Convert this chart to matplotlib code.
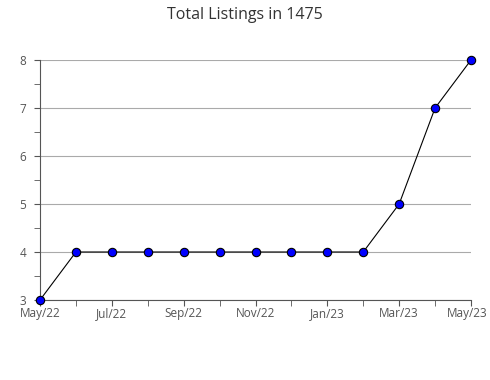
import matplotlib
matplotlib.use('Agg')
import matplotlib.pyplot as plt
import matplotlib.transforms as mtransforms
from matplotlib.ticker import MultipleLocator

plt.rcParams['font.family'] = ['Open Sans', 'DejaVu Sans']

# monthly listing counts
months = ['May/22', 'Jun/22', 'Jul/22', 'Aug/22', 'Sep/22', 'Oct/22', 'Nov/22',
          'Dec/22', 'Jan/23', 'Feb/23', 'Mar/23', 'Apr/23', 'May/23']
listings = [3, 4, 4, 4, 4, 4, 4, 4, 4, 4, 5, 7, 8]

x = list(range(len(months)))

fig = plt.figure(figsize=(4.9, 3.8), dpi=100)
ax = fig.add_axes([40 / 490, 80 / 380, 431 / 490, 240 / 380])

ax.plot(x, listings, color='black', linewidth=0.8, marker='o',
        markersize=6, markerfacecolor='#0000ff', markeredgecolor='black',
        markeredgewidth=0.8, zorder=3, clip_on=False)

ax.set_xlim(x[0], x[-1])
ax.set_ylim(3, 8)
ax.set_xticks(x[::2])
ax.set_xticklabels(months[::2])
ax.set_xticks(x, minor=True)
ax.yaxis.set_major_locator(MultipleLocator(1))
ax.yaxis.set_minor_locator(MultipleLocator(0.5))

ax.grid(axis='y', which='major', color='#aaaaaa', linewidth=0.8)
ax.set_axisbelow(True)
for side in ['top', 'right']:
    ax.spines[side].set_visible(False)
for side in ['left', 'bottom']:
    ax.spines[side].set_color('#555555')
    ax.spines[side].set_linewidth(0.8)

ax.tick_params(which='both', direction='out', color='#555555', labelcolor='#555555',
               labelsize=8.5, length=4, pad=1)
ax.tick_params(axis='y', pad=6)

# keep the last label inside the figure
last = ax.get_xticklabels()[-1]
last.set_transform(last.get_transform() +
                   mtransforms.ScaledTranslation(-4 / 100, 0, fig.dpi_scale_trans))

fig.text(0.5, 1 - 15 / 380, 'Total Listings in 1475', ha='center', va='center',
         fontsize=11.5, color='#333333')

fig.savefig('out.png', dpi=100)
